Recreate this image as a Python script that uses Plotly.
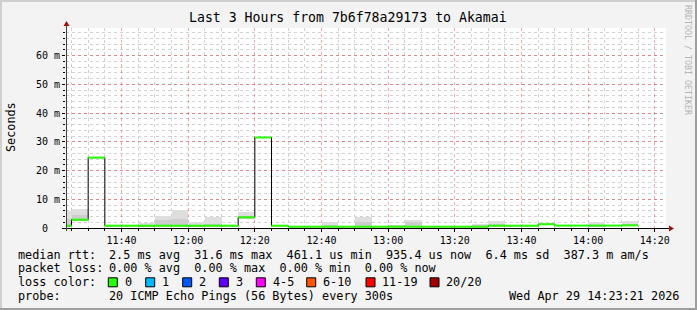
import plotly.graph_objects as go

# ---------------- data ----------------
bin_start = ["11:20", "11:25", "11:30", "11:35", "11:40", "11:45", "11:50", "11:55",
             "12:00", "12:05", "12:10", "12:15", "12:20", "12:25", "12:30", "12:35",
             "12:40", "12:45", "12:50", "12:55", "13:00", "13:05", "13:10", "13:15",
             "13:20", "13:25", "13:30", "13:35", "13:40", "13:45", "13:50", "13:55",
             "14:00", "14:05", "14:10"]
bin_end_last = "14:15"
median_ms = [0.8, 2.9, 24.5, 0.8, 0.8, 0.8, 0.8, 0.8,
             0.8, 0.8, 0.8, 3.7, 31.5, 0.8, 0.45, 0.45,
             0.45, 0.45, 0.45, 0.45, 0.45, 0.45, 0.45, 0.45,
             0.45, 0.45, 0.8, 0.8, 0.8, 1.3, 0.85, 0.85,
             0.85, 0.85, 0.9]
smoke_low_ms = [0.45, 2.5, 24.5, 0.8, 0.8, 0.6, 0.6, 0.6,
                0.6, 0.6, 0.8, 3.2, 31.5, 0.8, 0.45, 0.45,
                0.45, 0.45, 0.45, 0.45, 0.45, 0.45, 0.45, 0.45,
                0.45, 0.45, 0.6, 0.8, 0.8, 1.3, 0.85, 0.85,
                0.6, 0.85, 0.6]
smoke_top_ms = [6.0, 6.7, 24.5, 0.8, 0.8, 1.6, 4.3, 6.3,
                2.0, 4.0, 0.8, 5.4, 31.5, 0.8, 0.45, 0.45,
                2.0, 0.45, 3.7, 0.45, 1.1, 2.9, 0.45, 0.45,
                0.45, 1.5, 2.5, 0.8, 0.8, 1.3, 0.85, 0.85,
                2.0, 0.85, 2.5]
smoke_mid_ms = [3.0, 4.5, 24.5, 0.8, 0.8, 1.0, 2.9, 3.2,
                1.2, 1.5, 0.8, 4.2, 31.5, 0.8, 0.45, 0.45,
                1.2, 0.45, 2.0, 0.45, 0.8, 2.0, 0.45, 0.45,
                0.45, 0.9, 1.5, 0.8, 0.8, 1.3, 0.85, 0.85,
                1.2, 0.85, 1.5]
ytick_vals = [0, 10, 20, 30, 40, 50, 60]
ytick_text = ["0\u00a0\u00a0", "10 m", "20 m", "30 m", "40 m", "50 m", "60 m"]
loss_labels = ["0", "1", "2", "3", "4-5", "6-10", "11-19", "20/20"]
loss_colors = ["#26ff00", "#00b8ff", "#0059ff", "#5e00ff", "#ff00f6", "#ff5500", "#ff0000", "#a10000"]

title_text = "Last 3 Hours from 7b6f78a29173 to Akamai"
legend_lines = [
    ("median rtt:", "2.5 ms avg  31.6 ms max  461.1 us min  935.4 us now  6.4 ms sd  387.3 m am/s"),
    ("packet loss:", "0.00 % avg  0.00 % max  0.00 % min  0.00 % now"),
    ("loss color:", ""),
    ("probe:", "20 ICMP Echo Pings (56 Bytes) every 300s"),
]
date_text = "Wed Apr 29 14:23:21 2026"
day = "2026-04-29 "
x_start = day + "11:23:21"
x_end = day + "14:23:21"

# ---------------- layout helpers ----------------
W, H = 697, 310
L, R, T, B = 66, 31, 28, 82
PW, PH = W - L - R, H - T - B
def px(x):
    return (x - L) / PW
def py(y):
    return (H - B - y) / PH

MONO = "DejaVu Sans Mono"
starts = [day + s + ":00" for s in bin_start]
ends = starts[1:] + [day + bin_end_last + ":00"]

fig = go.Figure()
# smoke (light band then darker band)
fig.add_trace(go.Bar(x=starts, y=[t - lo for t, lo in zip(smoke_top_ms, smoke_low_ms)],
                     base=smoke_low_ms, offset=0, width=300000,
                     marker=dict(color="#dedede", line=dict(width=0)), hoverinfo="skip"))
fig.add_trace(go.Bar(x=starts, y=[m - lo for m, lo in zip(smoke_mid_ms, smoke_low_ms)],
                     base=smoke_low_ms, offset=0, width=300000,
                     marker=dict(color="#cdcdcd", line=dict(width=0)), hoverinfo="skip"))
# black step line
fig.add_trace(go.Scatter(x=starts + [ends[-1]], y=median_ms + [median_ms[-1]], mode="lines",
                         line=dict(color="black", width=1, shape="hv"), hoverinfo="skip"))
# green segments
gx, gy = [], []
for s, e, v in zip(starts, ends, median_ms):
    gx += [s, e, None]
    gy += [v, v, None]
fig.add_trace(go.Scatter(x=gx, y=gy, mode="lines", line=dict(color=loss_colors[0], width=2),
                         hoverinfo="skip"))

shapes = []
# axes lines
shapes.append(dict(type="line", xref="paper", yref="paper", x0=px(64), x1=px(669),
                   y0=py(228.5), y1=py(228.5), line=dict(color="black", width=1)))
shapes.append(dict(type="line", xref="paper", yref="paper", x0=px(66.5), x1=px(66.5),
                   y0=py(231), y1=py(25), line=dict(color="#404040", width=1)))
# arrows
shapes.append(dict(type="path", xref="paper", yref="paper",
                   path=f"M {px(669)} {py(225.5)} L {px(674)} {py(228.5)} L {px(669)} {py(231.5)} Z",
                   fillcolor="#a01010", line=dict(width=0)))
shapes.append(dict(type="path", xref="paper", yref="paper",
                   path=f"M {px(63.5)} {py(26)} L {px(66.5)} {py(21)} L {px(69.5)} {py(26)} Z",
                   fillcolor="#a01010", line=dict(width=0)))
# frame shading
shapes.append(dict(type="rect", xref="paper", yref="paper", x0=px(0), x1=px(W), y0=py(0), y1=py(2),
                   fillcolor="#cfcfcf", line=dict(width=0), layer="above"))
shapes.append(dict(type="rect", xref="paper", yref="paper", x0=px(0), x1=px(2), y0=py(0), y1=py(H),
                   fillcolor="#cfcfcf", line=dict(width=0), layer="above"))
shapes.append(dict(type="rect", xref="paper", yref="paper", x0=px(0), x1=px(W), y0=py(H - 2), y1=py(H),
                   fillcolor="#9e9e9e", line=dict(width=0), layer="above"))
shapes.append(dict(type="rect", xref="paper", yref="paper", x0=px(W - 2), x1=px(W), y0=py(0), y1=py(H),
                   fillcolor="#9e9e9e", line=dict(width=0), layer="above"))

annotations = []
def ann(text, x, y, size, xanchor="left", color="black", angle=0):
    annotations.append(dict(text=text, xref="paper", yref="paper", x=px(x), y=py(y),
                            xanchor=xanchor, yanchor="middle", showarrow=False, textangle=angle,
                            font=dict(family=MONO, size=size, color=color)))

ann(title_text, 347.5, 18, 13.2, xanchor="center")
ann("Seconds", 11, 127, 11.8, xanchor="center", angle=-90)
ann("RRDTOOL / TOBI OETIKER", 688, 60, 8.3, xanchor="center", color="#b4b4b4", angle=90)

line_y = [254.7, 268.4, 282.3, 296.3]
for (lab, val), yy in zip(legend_lines, line_y):
    ann(lab, 15.5, yy, 11.8)
    if val:
        ann(val, 106.8, yy, 11.8)
ann(date_text, 681, line_y[3], 11.8, xanchor="right")

box_x = [108.3, 145.7, 182.7, 219.3, 256.3, 306.7, 366, 430]
for bx, lab, col in zip(box_x, loss_labels, loss_colors):
    shapes.append(dict(type="rect", xref="paper", yref="paper", x0=px(bx), x1=px(bx + 9),
                       y0=py(line_y[2] + 4.5), y1=py(line_y[2] - 4.5), fillcolor=col,
                       line=dict(color="black", width=1)))
    ann(lab, bx + 14.2, line_y[2], 11.8)

fig.update_layout(
    width=W, height=H, margin=dict(l=L, r=R, t=T, b=B, pad=0),
    paper_bgcolor="#f3f3f3", plot_bgcolor="white",
    showlegend=False, barmode="overlay", bargap=0,
    shapes=shapes, annotations=annotations,
    xaxis=dict(type="date", range=[x_start, x_end], tickformat="%H:%M",
               tick0=day + "11:40:00", dtick=20 * 60 * 1000,
               showgrid=True, gridcolor="rgba(255,0,0,0.35)", griddash="dot", gridwidth=1,
               minor=dict(dtick=5 * 60 * 1000, showgrid=True, gridcolor="#d2d2d2", griddash="dot",
                          ticks="outside", ticklen=2, tickcolor="black"),
               ticks="outside", ticklen=3, tickcolor="black",
               showline=False, zeroline=False,
               tickfont=dict(family=MONO, size=10, color="black")),
    yaxis=dict(range=[0, 69.6], tickvals=ytick_vals, ticktext=ytick_text,
               showgrid=True, gridcolor="rgba(255,0,0,0.35)", griddash="dot", gridwidth=1,
               minor=dict(dtick=2, showgrid=True, gridcolor="#d2d2d2", griddash="dot",
                          ticks="outside", ticklen=2, tickcolor="black"),
               ticks="outside", ticklen=3, tickcolor="black",
               showline=False, zeroline=False,
               tickfont=dict(family=MONO, size=10, color="black")),
)

fig.write_html("out.html")
